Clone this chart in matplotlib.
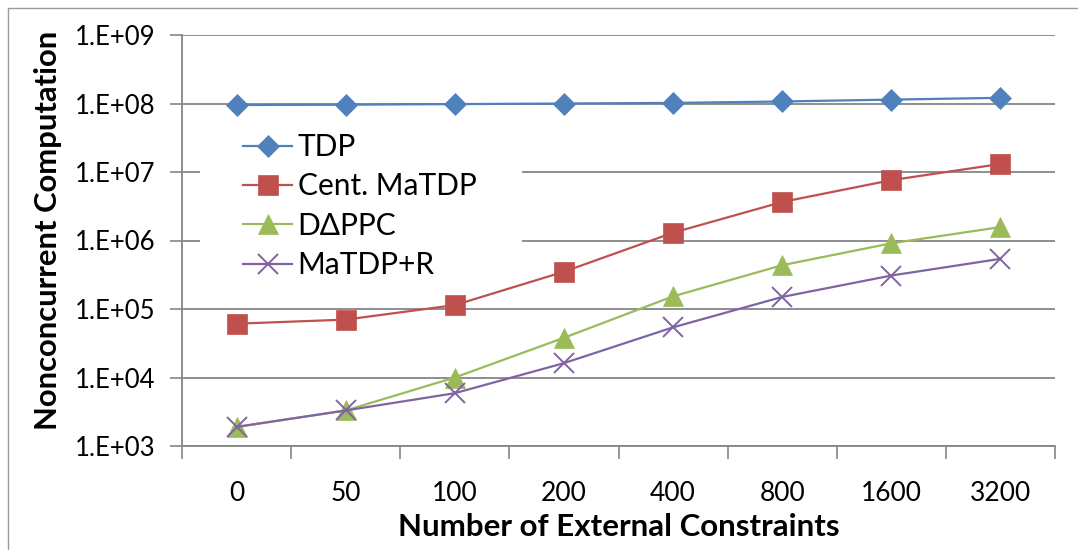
import math
import matplotlib
matplotlib.use("Agg")
import matplotlib.pyplot as plt
from matplotlib.lines import Line2D
from matplotlib.patches import Rectangle
from matplotlib.ticker import FixedLocator, FuncFormatter, NullLocator

# Data
categories = ["0", "50", "100", "200", "400", "800", "1600", "3200"]
tdp = [9.5e7, 9.6e7, 9.8e7, 1.0e8, 1.02e8, 1.07e8, 1.14e8, 1.21e8]
cent_matdp = [6.1e4, 7.0e4, 1.14e5, 3.5e5, 1.3e6, 3.65e6, 7.6e6, 1.31e7]
dppc = [1.9e3, 3.3e3, 1.0e4, 3.8e4, 1.53e5, 4.36e5, 9.1e5, 1.57e6]
matdp_r = [1.9e3, 3.3e3, 5.9e3, 1.62e4, 5.4e4, 1.5e5, 3.08e5, 5.4e5]
y_ticks = [1e3, 1e4, 1e5, 1e6, 1e7, 1e8, 1e9]

FONT = "Lato"
W, H = 1078, 550
fig = plt.figure(figsize=(W / 100, H / 100), dpi=100)
fig.patch.set_facecolor("white")

# thin outer frame (left and top edges)
fig.add_artist(Line2D([8 / W, 8 / W, 1.0], [0.0, 1 - 8 / H, 1 - 8 / H],
                      transform=fig.transFigure, color="#9a9a9a", lw=1.0))

left, right, top, bottom = 182, 1055, 35, 446
ax = fig.add_axes([left / W, 1 - bottom / H, (right - left) / W, (bottom - top) / H])


def px_to_axes(px, py):
    return (px - left) / (right - left), 1 - (py - top) / (bottom - top)


x = list(range(len(categories)))
grey = "#868686"

series = [
    ("TDP", tdp, "#4F81BD", "D", 11.5, 0.5),
    ("Cent. MaTDP", cent_matdp, "#C0504D", "s", 14.5, 0.5),
    ("D\u0394PPC", dppc, "#9BBB59", "^", 15, 0.5),
    ("MaTDP+R", matdp_r, "#8064A2", "x", 14, 1.4),
]
for label, vals, col, mk, ms, mew in series:
    ax.plot(x, vals, color=col, lw=1.6, marker=mk, markersize=ms, label=label,
            markerfacecolor=col, markeredgecolor=col, markeredgewidth=mew, zorder=3)

ax.set_yscale("log")
ax.set_ylim(1e3, 1e9)
ax.set_xlim(-0.5, len(categories) - 0.5)

ax.yaxis.set_major_locator(FixedLocator(y_ticks))
ax.yaxis.set_minor_locator(NullLocator())
ax.yaxis.set_major_formatter(FuncFormatter(lambda v, p: "1.E+%02d" % round(math.log10(v))))
ax.grid(axis="y", which="major", color=grey, lw=1.3)
ax.set_axisbelow(True)

ax.set_xticks(x)
ax.set_xticklabels(categories)
ax.set_xticks([i - 0.5 for i in range(len(categories) + 1)], minor=True)
ax.tick_params(axis="x", which="major", length=0, pad=25, labelsize=19)
ax.tick_params(axis="x", which="minor", length=9, width=1.2, color=grey, direction="out")
ax.tick_params(axis="y", which="major", length=9, width=1.2, color=grey, pad=10, labelsize=18.5)

for lab in ax.get_xticklabels() + ax.get_yticklabels():
    lab.set_fontfamily(FONT)

for s in ["top", "right"]:
    ax.spines[s].set_visible(False)
for s in ["left", "bottom"]:
    ax.spines[s].set_color(grey)
    ax.spines[s].set_linewidth(1.3)

# white legend background sitting over the gridlines, below the data lines
bx0, by0 = px_to_axes(200, 292)
bx1, by1 = px_to_axes(522, 118)
ax.add_patch(Rectangle((bx0, by0), bx1 - bx0, by1 - by0, transform=ax.transAxes,
                       facecolor="white", edgecolor="none", zorder=1.5))

ax.legend(loc="upper left", bbox_to_anchor=px_to_axes(243, 133),
          frameon=False, prop={"family": FONT, "size": 21.5}, handlelength=1.65,
          handletextpad=0.18, labelspacing=0.38, borderpad=0, borderaxespad=0)

fig.text(48 / W, 1 - 230 / H, "Nonconcurrent Computation", rotation=90, ha="center", va="center",
         fontsize=22.3, fontweight="bold", family=FONT)
fig.text(619 / W, 1 - 527 / H, "Number of External Constraints", ha="center", va="center",
         fontsize=22.5, fontweight="bold", family=FONT)

fig.savefig("out.png", dpi=100)
